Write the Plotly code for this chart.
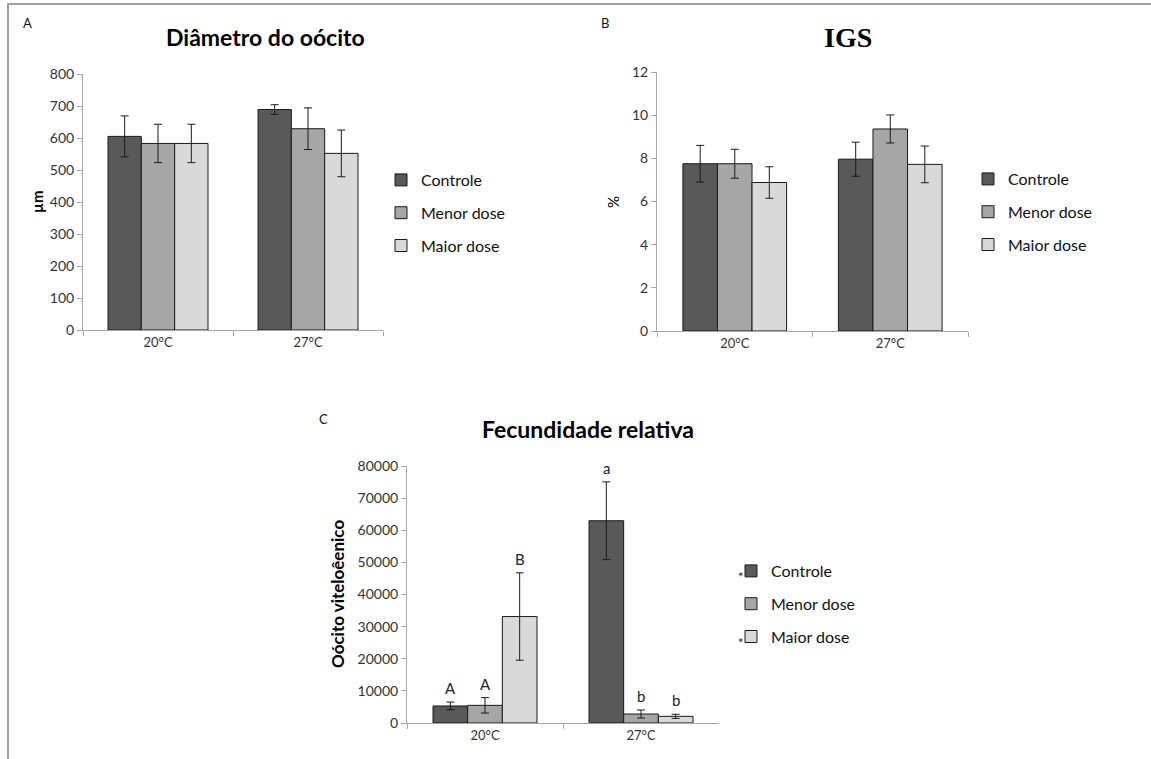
import plotly.graph_objects as go

W, H = 1151, 759

temps = ["20°C", "27°C"]
series = ["Controle", "Menor dose", "Maior dose"]
colors = ["#595959", "#A6A6A6", "#D9D9D9"]

# Panel A: oocyte diameter (µm)
diam_mean = {"Controle": [605, 689], "Menor dose": [583, 629], "Maior dose": [583, 552]}
diam_err = {"Controle": [64, 15], "Menor dose": [60, 65], "Maior dose": [60, 73]}

# Panel B: gonadosomatic index (%)
igs_mean = {"Controle": [7.75, 7.96], "Menor dose": [7.75, 9.36], "Maior dose": [6.88, 7.72]}
igs_err = {"Controle": [0.85, 0.79], "Menor dose": [0.67, 0.65], "Maior dose": [0.73, 0.85]}

# Panel C: relative fecundity (vitellogenic oocytes)
fec_mean = {"Controle": [5300, 62960], "Menor dose": [5500, 2800], "Maior dose": [33140, 2080]}
fec_err = {"Controle": [1200, 12100], "Menor dose": [2400, 1250], "Maior dose": [13600, 650]}
fec_letters = {"Controle": ["A", "a"], "Menor dose": ["A", "b"], "Maior dose": ["B", "b"]}
starred = ["Controle", "Maior dose"]

FONT = "Lato"
AXC = "#A6A6A6"
TXT = "#333333"


def px_x(p):
    return p / W


def px_y(p):
    return 1 - p / H


fig = go.Figure()

panels = [
    ("x", "y", "legend", diam_mean, diam_err),
    ("x2", "y2", "legend2", igs_mean, igs_err),
    ("x3", "y3", "legend3", fec_mean, fec_err),
]

for xa, ya, lg, means, errs in panels:
    for name, col in zip(series, colors):
        fig.add_trace(go.Bar(
            x=temps, y=means[name], name=name,
            xaxis=xa, yaxis=ya, legend=lg,
            legendgroup=f"{lg}_{name}",
            marker=dict(color=col, line=dict(color="#1a1a1a", width=1)),
            error_y=dict(type="data", array=errs[name], color="#1a1a1a",
                         thickness=1, width=4),
            hoverinfo="skip",
        ))

xcommon = dict(type="category", range=[-0.5, 1.5], tickson="boundaries",
               ticks="outside", ticklen=5, tickcolor=AXC, showline=True,
               linecolor=AXC, linewidth=1, showgrid=False, zeroline=False,
               automargin=False,
               tickfont=dict(family=FONT, size=13, color=TXT), fixedrange=True)
ycommon = dict(ticks="outside", ticklen=5, tickcolor=AXC, showline=True,
               linecolor=AXC, linewidth=1, showgrid=False, zeroline=False,
               automargin=False,
               tickfont=dict(family=FONT, size=14, color=TXT), fixedrange=True)

fig.update_layout(
    width=W, height=H,
    margin=dict(l=0, r=0, t=0, b=0, pad=0, autoexpand=False),
    paper_bgcolor="white", plot_bgcolor="white",
    barmode="group", bargap=1/3, bargroupgap=0,
    xaxis=dict(domain=[px_x(83), px_x(383)], anchor="y", **xcommon),
    yaxis=dict(domain=[px_y(330), px_y(74)], anchor="x", range=[0, 800], dtick=100, **ycommon),
    xaxis2=dict(domain=[px_x(657), px_x(968)], anchor="y2", **xcommon),
    yaxis2=dict(domain=[px_y(331), px_y(72)], anchor="x2", range=[0, 12], dtick=2, **ycommon),
    xaxis3=dict(domain=[px_x(407), px_x(719)], anchor="y3", **xcommon),
    yaxis3=dict(domain=[px_y(723), px_y(466)], anchor="x3", range=[0, 80000], dtick=10000,
                tickformat="d", **ycommon),
    showlegend=True,
)

legend_style = dict(font=dict(family=FONT, size=16, color="#111111"),
                    bgcolor="rgba(0,0,0,0)", traceorder="grouped",
                    tracegroupgap=9, xanchor="left", yanchor="top",
                    itemclick=False, itemdoubleclick=False)
fig.update_layout(
    legend=dict(x=px_x(381), y=px_y(163), **legend_style),
    legend2=dict(x=px_x(968), y=px_y(162), **legend_style),
    legend3=dict(x=px_x(731), y=px_y(554), **legend_style),
)


def label(text, x, y, size, family=FONT, color="#000", angle=0):
    return dict(text=text, x=px_x(x), y=px_y(y), xref="paper", yref="paper",
                xanchor="center", yanchor="middle", textangle=angle,
                showarrow=False, font=dict(family=family, size=size, color=color))


ann = []
# panel letters
for lab, x, y in [("A", 27, 23), ("B", 605, 23), ("C", 323, 419)]:
    ann.append(label(lab, x, y, 13, color="#111"))
# titles
ann.append(label("<b>Diâmetro do oócito</b>", 265, 37, 23))
ann.append(label("<b>IGS</b>", 848, 37, 28, family="Liberation Serif"))
ann.append(label("<b>Fecundidade relativa</b>", 588, 429, 23))
# y-axis titles
ann.append(label("<b>µm</b>", 37, 202, 15, angle=-90))
ann.append(label("%", 613, 202, 15, angle=-90))
ann.append(label("<b>Oócito viteloêenico</b>", 337, 594, 17, angle=-90))

# significance letters above the fecundity bars
bar_w = (1 - 1/3) / len(series)
for i, name in enumerate(series):
    off = (i - 1) * bar_w
    for j, t in enumerate(temps):
        ann.append(dict(text=fec_letters[name][j], x=j + off,
                        y=fec_mean[name][j] + fec_err[name][j],
                        xref="x3", yref="y3", xanchor="center", yanchor="bottom", yshift=3,
                        showarrow=False, font=dict(family=FONT, size=15, color="#222")))

# asterisks beside legend entries of panel C
for name, yy in zip(series, [577, 610, 643]):
    if name in starred:
        ann.append(label("*", 741, yy, 13, color="#222"))

fig.update_layout(annotations=ann)

# outer frame (top and left edges)
fig.update_layout(shapes=[
    dict(type="line", xref="paper", yref="paper", x0=px_x(7), x1=1, y0=px_y(4), y1=px_y(4),
         line=dict(color="#A0A0A0", width=2)),
    dict(type="line", xref="paper", yref="paper", x0=px_x(8), x1=px_x(8), y0=0, y1=px_y(4),
         line=dict(color="#A0A0A0", width=2)),
])

fig.write_html("out.html", config={"displayModeBar": False})
